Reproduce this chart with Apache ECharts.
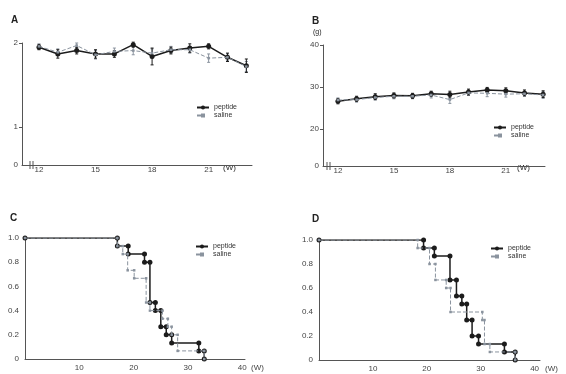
<!DOCTYPE html>
<html>
<head>
<meta charset="utf-8">
<script src="https://cdn.jsdelivr.net/npm/echarts@6/dist/echarts.min.js"></script>
<style>
  html, body { margin: 0; background: #fff; }
  #chart { width: 566px; height: 374px; }
</style>
</head>
<body>
<div id="chart"></div>
<script>
// weeks of age (panels A, B)
const weeks = [12, 13, 14, 15, 16, 17, 18, 19, 20, 21, 22, 23];

// A: y values and error
const aPeptide = [1.95, 1.87, 1.91, 1.87, 1.87, 1.98, 1.84, 1.91, 1.94, 1.96, 1.83, 1.73];
const aPeptideErr = [0.03, 0.05, 0.04, 0.05, 0.04, 0.03, 0.10, 0.04, 0.05, 0.03, 0.05, 0.08];
const aSaline = [1.96, 1.89, 1.97, 1.86, 1.90, 1.91, 1.88, 1.92, 1.92, 1.82, 1.83, 1.72];
const aSalineErr = [0.03, 0.04, 0.03, 0.05, 0.04, 0.05, 0.05, 0.04, 0.04, 0.05, 0.04, 0.06];

// B: body weight (g)
const bPeptide = [26.6, 27.2, 27.7, 28.0, 27.9, 28.4, 28.2, 28.8, 29.3, 29.1, 28.6, 28.3];
const bPeptideErr = [0.6, 0.6, 0.7, 0.6, 0.6, 0.6, 0.8, 0.7, 0.6, 0.7, 0.7, 0.8];
const bSaline = [26.9, 27.0, 27.5, 27.8, 27.8, 28.1, 27.0, 28.6, 28.5, 28.3, 28.4, 28.1];
const bSalineErr = [0.5, 0.6, 0.6, 0.6, 0.6, 0.7, 0.9, 0.6, 0.8, 0.7, 0.6, 0.8];

// C, D: survival (event week, survival after event)
const cPepT = [17, 19, 22, 23, 24, 25, 26, 27, 32, 33];
const cPepS = [0.933, 0.867, 0.8, 0.467, 0.4, 0.267, 0.2, 0.133, 0.067, 0];
const cSalT = [17, 18, 18.9, 20.1, 22.3, 23, 25.3, 26.3, 27, 28.1, 33];
const cSalS = [0.933, 0.867, 0.733, 0.667, 0.467, 0.4, 0.333, 0.267, 0.2, 0.067, 0];
const dPepT = [19.4, 21.4, 24.3, 25.5, 26.5, 27.4, 28.4, 29.6, 34.4, 36.4];
const dPepS = [0.933, 0.867, 0.667, 0.533, 0.467, 0.333, 0.2, 0.133, 0.067, 0];
const dSalT = [18.3, 20.5, 21.6, 23.6, 24.4, 30.3, 30.7, 31.7, 36.4];
const dSalS = [0.933, 0.8, 0.667, 0.6, 0.4, 0.333, 0.133, 0.067, 0];

const aTicks = [1, 2];
const bTicks = [20, 30, 40];
const abWeekTicks = [12, 15, 18, 21];

const PEP = '#1c1c1c';
const SAL = '#8a939e';
const AX = '#555';
const FONT = 'Liberation Sans';

const aMin = 0.55, bMin = 11.2;

function pairs(xs, ys) { return xs.map((x, i) => [x, ys[i]]); }
function errData(xs, ys, es) { return xs.map((x, i) => [x, ys[i], es[i]]); }
function km(T, S) {
  const d = [[0, 1]];
  let prev = 1;
  T.forEach((t, i) => { d.push([t, prev]); d.push([t, S[i]]); prev = S[i]; });
  return d;
}

function errSeries(idx, data, color) {
  return {
    type: 'custom', xAxisIndex: idx, yAxisIndex: idx, silent: true, z: 1,
    data: data,
    renderItem: function (params, api) {
      const x = api.value(0), y = api.value(1), e = api.value(2);
      const t = api.coord([x, y + e]), b = api.coord([x, y - e]);
      const st = { stroke: color, lineWidth: 1 };
      return { type: 'group', children: [
        { type: 'line', shape: { x1: t[0], y1: t[1], x2: b[0], y2: b[1] }, style: st },
        { type: 'line', shape: { x1: t[0] - 1.5, y1: t[1], x2: t[0] + 1.5, y2: t[1] }, style: st },
        { type: 'line', shape: { x1: b[0] - 1.5, y1: b[1], x2: b[0] + 1.5, y2: b[1] }, style: st }
      ] };
    }
  };
}

function pepLine(idx, data) {
  return { name: 'peptide', type: 'line', xAxisIndex: idx, yAxisIndex: idx, data: data,
    symbol: 'circle', symbolSize: 5, z: 3,
    lineStyle: { color: PEP, width: 1.5 }, itemStyle: { color: PEP } };
}
function salLine(idx, data) {
  return { name: 'saline', type: 'line', xAxisIndex: idx, yAxisIndex: idx, data: data,
    symbol: 'rect', symbolSize: 2.5, z: 4,
    lineStyle: { color: SAL, width: 1, type: 'dashed' }, itemStyle: { color: SAL } };
}

const labelStyle = { color: '#444', fontSize: 8, fontFamily: FONT };
const axisLine = { show: true, lineStyle: { color: AX, width: 1 } };

function legend(left, top) {
  return { left: left, top: top, orient: 'vertical', itemGap: 1, itemWidth: 12, itemHeight: 5,
    padding: 0, data: ['peptide', 'saline'],
    textStyle: { color: '#333', fontSize: 7, fontFamily: FONT } };
}

function txt(x, y, s, size, bold) {
  return { type: 'text', left: x, top: y, silent: true,
    style: { text: s, fill: '#222', fontSize: size, fontWeight: bold ? 'bold' : 'normal', fontFamily: FONT } };
}
function brk(x, y) {
  return { type: 'group', silent: true, children: [
    { type: 'rect', shape: { x: x - 1, y: y - 4, width: 4, height: 8 }, style: { fill: '#fff' } },
    { type: 'line', shape: { x1: x - 1, y1: y - 4, x2: x - 1, y2: y + 4 }, style: { stroke: AX, lineWidth: 1 } },
    { type: 'line', shape: { x1: x + 2, y1: y - 4, x2: x + 2, y2: y + 4 }, style: { stroke: AX, lineWidth: 1 } }
  ] };
}

const option = {
  backgroundColor: '#fff',
  animation: false,
  grid: [
    { left: 22, top: 43, width: 230, height: 122 },
    { left: 323, top: 45, width: 222, height: 121 },
    { left: 25, top: 238, width: 220, height: 121 },
    { left: 319, top: 240, width: 221, height: 120 }
  ],
  xAxis: [
    { gridIndex: 0, type: 'value', min: 11.1, max: 23.3, splitLine: { show: false }, axisLine: axisLine,
      axisTick: { show: false },
      axisLabel: Object.assign({ customValues: abWeekTicks, margin: 1 }, labelStyle) },
    { gridIndex: 1, type: 'value', min: 11.2, max: 23.1, splitLine: { show: false }, axisLine: axisLine,
      axisTick: { show: false },
      axisLabel: Object.assign({ customValues: abWeekTicks, margin: 1 }, labelStyle) },
    { gridIndex: 2, type: 'value', min: 0, max: 40.5, splitLine: { show: false }, axisLine: axisLine,
      axisTick: { show: false },
      name: '(W)', nameGap: 6, nameTextStyle: Object.assign({ verticalAlign: 'top', padding: [5, 0, 0, 0] }, labelStyle),
      axisLabel: Object.assign({ customValues: [10, 20, 30, 40], margin: 5 }, labelStyle) },
    { gridIndex: 3, type: 'value', min: 0, max: 41, splitLine: { show: false }, axisLine: axisLine,
      axisTick: { show: false },
      name: '(W)', nameGap: 5, nameTextStyle: Object.assign({ verticalAlign: 'top', padding: [5, 0, 0, 0] }, labelStyle),
      axisLabel: Object.assign({ customValues: [10, 20, 30, 40], margin: 5 }, labelStyle) }
  ],
  yAxis: [
    { gridIndex: 0, type: 'value', min: aMin, max: 2, splitLine: { show: false }, axisLine: axisLine,
      axisTick: { show: true, customValues: aTicks, length: 3, lineStyle: { color: AX } },
      axisLabel: Object.assign({ customValues: [aMin].concat(aTicks), margin: 4,
        formatter: v => (v === aMin ? '0' : String(v)) }, labelStyle) },
    { gridIndex: 1, type: 'value', min: bMin, max: 40, splitLine: { show: false }, axisLine: axisLine,
      axisTick: { show: true, customValues: bTicks, length: 3, lineStyle: { color: AX } },
      axisLabel: Object.assign({ customValues: [bMin].concat(bTicks), margin: 4,
        formatter: v => (v === bMin ? '0' : String(v)) }, labelStyle) },
    { gridIndex: 2, type: 'value', min: 0, max: 1, interval: 0.2, splitLine: { show: false }, axisLine: axisLine,
      axisTick: { show: false },
      axisLabel: Object.assign({ margin: 6, formatter: v => (v === 0 ? '0' : v.toFixed(1)) }, labelStyle) },
    { gridIndex: 3, type: 'value', min: 0, max: 1, interval: 0.2, splitLine: { show: false }, axisLine: axisLine,
      axisTick: { show: false },
      axisLabel: Object.assign({ margin: 6, formatter: v => (v === 0 ? '0' : v.toFixed(1)) }, labelStyle) }
  ],
  legend: [legend(196, 104), legend(493, 124), legend(195, 243), legend(490, 245)],
  series: [
    errSeries(0, errData(weeks, aSaline, aSalineErr), SAL),
    errSeries(0, errData(weeks, aPeptide, aPeptideErr), PEP),
    pepLine(0, pairs(weeks, aPeptide)),
    salLine(0, pairs(weeks, aSaline)),
    errSeries(1, errData(weeks, bSaline, bSalineErr), SAL),
    errSeries(1, errData(weeks, bPeptide, bPeptideErr), PEP),
    pepLine(1, pairs(weeks, bPeptide)),
    salLine(1, pairs(weeks, bSaline)),
    pepLine(2, km(cPepT, cPepS)),
    salLine(2, km(cSalT, cSalS)),
    pepLine(3, km(dPepT, dPepS)),
    salLine(3, km(dSalT, dSalS))
  ],
  graphic: [
    txt(11, 15, 'A', 10, true),
    txt(312, 16, 'B', 10, true),
    txt(10, 213, 'C', 10, true),
    txt(312, 214, 'D', 10, true),
    txt(313, 29, '(g)', 7, false),
    txt(223, 164, '(W)', 8, false),
    txt(517, 164, '(W)', 8, false),
    brk(31, 165),
    brk(328, 166)
  ]
};

echarts.init(document.getElementById('chart')).setOption(option);
</script>
</body>
</html>
